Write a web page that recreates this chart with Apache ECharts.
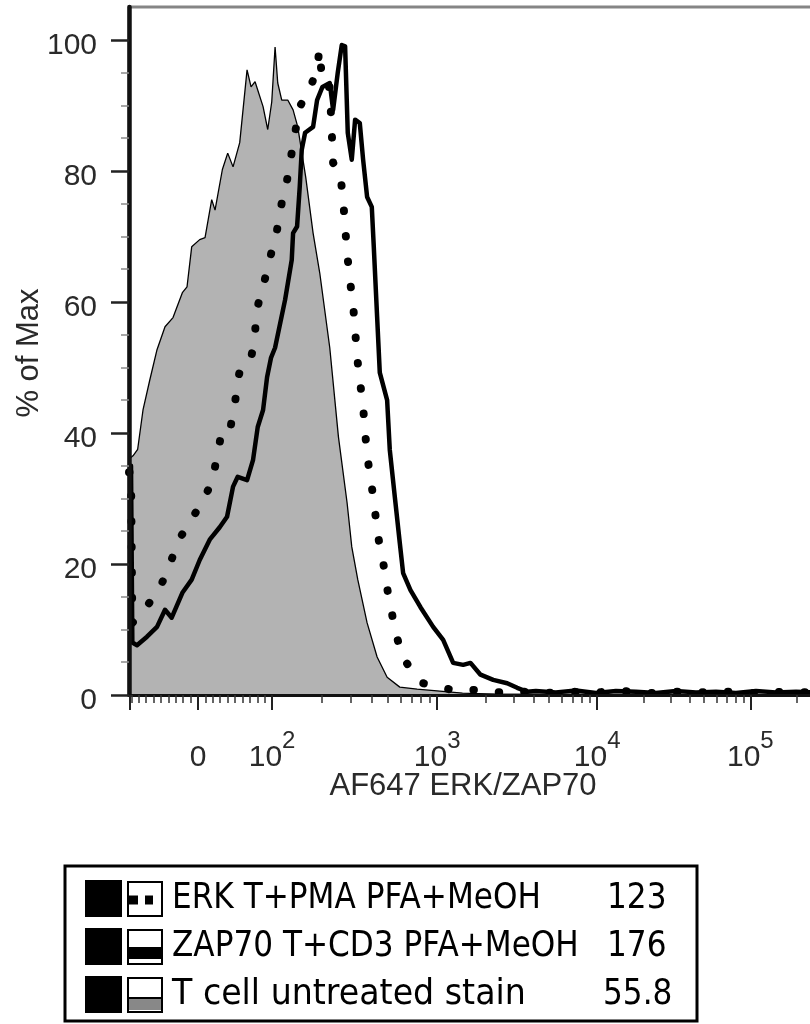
<!DOCTYPE html>
<html>
<head>
<meta charset="utf-8">
<script src="https://cdn.jsdelivr.net/npm/echarts@6.0.0/dist/echarts.min.js"></script>
<style>
html,body{margin:0;padding:0;background:#ffffff;}
#chart{width:810px;height:1024px;}
</style>
</head>
<body>
<div id="chart"></div>
<script>
// x values: display channel (0-1024) of the biexponential AF647 axis; y values: % of max
const erkCh = [0,3,5,28,46,61,73,91,109,124,132,139,151,159,163,170,184,189,190,201,212,222,229,237,249,256,271,283,285,291,301,306,316,321,324,327,331,336,339,342,346,351,354,358,364,369,373,381,387,394,402,411,432,441,467,492,520,550,580,620,660,700,740,780,820,860,900,940,980,1024];
const erkPct = [34,34,11,13.7,16.3,19.8,23.4,26.4,29.3,32.4,36.3,40.2,40.2,44.6,48.1,51,52,54.2,58.3,62.3,66.9,71,75.1,78.6,85.8,89.8,92.4,95.9,98.5,92.8,92.8,81.2,80.2,75.6,71.5,67.5,63.5,59.5,55.7,51.6,48.1,44,40,35.9,31.8,27.9,24.4,20.3,16.3,12.5,8.7,5.6,2.7,1.8,1.2,0.6,0.8,0.4,0.6,0.3,0.5,0.4,0.6,0.3,0.5,0.4,0.5,0.3,0.5,0.4];

const zapCh = [0,3,5,12,27,42,54,64,80,94,106,121,136,147,156,163,177,186,193,201,207,213,219,234,244,246,252,256,259,264,276,282,290,301,306,313,319,324,328,334,339,346,351,357,364,367,372,376,387,391,399,406,411,422,437,456,471,486,501,512,527,546,567,582,597,610,640,670,700,730,760,790,820,850,880,910,940,970,1000,1024];
const zapPct = [35,35,8,7.6,8.9,10.4,13,11.8,15.6,17.6,20.6,23.7,25.6,27.2,31.8,33.3,32.8,35.9,40.9,43.5,48.5,51.5,53,60.3,66.4,70.5,71.5,77.6,83.2,85.8,86.7,90.8,92.8,93.4,89.3,95,99.2,99,85.8,81.7,87.8,87.3,81.7,76,74.5,68.4,57.7,49.2,45,37.4,29.8,23.2,18.6,16,13.4,10.4,8.4,4.9,4.6,4.9,3.1,2.3,1.8,1.1,0.5,0.6,0.4,0.7,0.3,0.6,0.5,0.3,0.6,0.4,0.5,0.3,0.6,0.4,0.5,0.4];

const unstCh = [0,6,13,21,31,42,54,66,80,87,94,106,114,124,129,140,148,156,166,177,183,189,201,208,214,219,223,229,238,246,253,265,276,286,301,314,327,334,343,357,372,387,406,432,466,500,560,640,760,900,1024];
const unstPct = [36,36.5,37.5,43.5,48,52.7,56.2,57.6,61.4,62.3,68.4,69.5,69.8,75.6,74,80.2,82.7,80.6,84.3,95.4,92.8,93.6,89.8,86.3,90.5,98.9,93.4,90.8,90.8,89.3,86.7,79,70.5,64.4,53,39.4,29.3,22.6,17.6,11,5.8,2.7,1.2,0.9,0.6,0.3,0.1,0.1,0,0,0];

const xTickCh = [103.5, 214.5, 462, 702, 931.5];
const xTickBase = ['0','10','10','10','10'];
const xTickExp = ['','2','3','4','5'];
const yTicks = [0,20,40,60,80,100];

const legendNames = ['ERK T+PMA PFA+MeOH','ZAP70 T+CD3 PFA+MeOH','T cell untreated stain'];
const legendValues = ['123','176','55.8'];

// ---- minor ticks of the biexponential axis ----
const minorX = [];
const zeroCh = xTickCh[0];
const dec = xTickCh.slice(1);
const linStep = (dec[0] - zeroCh) / 10;
for (let i = 1; i <= 9; i++) {
  minorX.push(zeroCh + i * linStep);
  const neg = zeroCh - i * linStep;
  if (neg > 0) minorX.push(neg);
}
for (let k = 0; k < dec.length; k++) {
  const span = k < dec.length - 1 ? dec[k + 1] - dec[k] : dec[k] - dec[k - 1];
  for (let m = 2; m <= 9; m++) {
    const v = dec[k] + Math.log10(m) * span;
    if (v < 1024) minorX.push(v);
  }
}
const yMinor = [];
for (let v = 5; v < 105; v += 5) if (v % 20 !== 0) yMinor.push(v);

function fmtX(val) {
  for (let i = 0; i < xTickCh.length; i++) {
    if (Math.abs(val - xTickCh[i]) < 0.01) {
      return xTickExp[i] ? '{b|' + xTickBase[i] + '}{s|' + xTickExp[i] + '}' : '{b|' + xTickBase[i] + '}';
    }
  }
  return '';
}

const FONT = 'Liberation Sans, Arial, Helvetica, sans-serif';
const TXT = '#2a2a2a';

// ---- legend box (graphic) ----
const g = [];
g.push({type:'rect', shape:{x:65, y:866, width:632, height:155}, style:{fill:'#fff', stroke:'#000', lineWidth:3}, z:10});
legendNames.forEach((name, i) => {
  const cy = 898.5 + i * 48;
  g.push({type:'rect', shape:{x:85, y:cy - 18.5, width:37, height:37}, style:{fill:'#000'}, z:11});
  g.push({type:'rect', shape:{x:128, y:cy - 16.5, width:34, height:34}, style:{fill:'#fff', stroke:'#000', lineWidth:2}, z:11});
  if (i === 0) {
    g.push({type:'rect', shape:{x:129, y:cy - 3, width:9, height:9}, style:{fill:'#000'}, z:12});
    g.push({type:'rect', shape:{x:145, y:cy - 3, width:8, height:9}, style:{fill:'#000'}, z:12});
  } else if (i === 1) {
    g.push({type:'rect', shape:{x:128, y:cy + 0.5, width:34, height:12}, style:{fill:'#000'}, z:12});
  } else {
    g.push({type:'rect', shape:{x:129, y:cy + 3.5, width:32, height:12}, style:{fill:'#888'}, z:12});
    g.push({type:'line', shape:{x1:128, y1:cy + 3.5, x2:162, y2:cy + 3.5}, style:{stroke:'#000', lineWidth:2}, z:13});
  }
  g.push({type:'text', x:172, y:cy, scaleX: i === 2 ? 0.95 : 0.89, z:12,
    style:{text:name, x:0, y:0, fontFamily:'DejaVu Sans, sans-serif', fontSize:35, fill:'#000', align:'left', verticalAlign:'middle'}});
  g.push({type:'text', x: i === 2 ? 603 : 607, y:cy, scaleX:0.89, z:12,
    style:{text:legendValues[i], x:0, y:0, fontFamily:'DejaVu Sans, sans-serif', fontSize:35, fill:'#000', align:'left', verticalAlign:'middle'}});
});
// axis titles
g.push({type:'text', x:463, y:786, z:12, style:{text:'AF647 ERK/ZAP70', fontFamily:FONT, fontSize:31, fill:TXT, align:'center', verticalAlign:'middle'}});
g.push({type:'text', x:29, y:353, rotation:Math.PI/2, z:12, style:{text:'% of Max', fontFamily:FONT, fontSize:31, fill:TXT, align:'center', verticalAlign:'middle'}});

const option = {
  animation: false,
  backgroundColor: '#ffffff',
  grid: {left:129, right:-2, top:7, bottom:329, show:true, borderColor:'#858585', borderWidth:3, backgroundColor:'transparent', containLabel:false, outerBoundsMode:'none'},
  xAxis: [
    {type:'value', min:0, max:1024, position:'bottom', z:10,
     axisLine:{show:true, onZero:false, lineStyle:{color:'#111', width:3}},
     axisTick:{show:true, customValues:[1.5].concat(xTickCh), length:15, lineStyle:{color:'#222', width:2}},
     axisLabel:{show:true, customValues:xTickCh, margin:34, formatter:fmtX,
       rich:{
         b:{fontSize:30, fontFamily:FONT, color:TXT, lineHeight:44, verticalAlign:'bottom'},
         s:{fontSize:24, fontFamily:FONT, color:TXT, lineHeight:25, verticalAlign:'top'}
       }},
     splitLine:{show:false}},
    {type:'value', min:0, max:1024, position:'bottom', z:10,
     axisLine:{show:false},
     axisTick:{show:true, customValues:minorX, length:8, lineStyle:{color:'#333', width:1.5}},
     axisLabel:{show:false}, splitLine:{show:false}}
  ],
  yAxis: [
    {type:'value', min:0, max:105, position:'left', z:10,
     axisLine:{show:true, onZero:false, lineStyle:{color:'#111', width:4.5}},
     axisTick:{show:true, customValues:yTicks, length:18, lineStyle:{color:'#222', width:2.5}},
     axisLabel:{show:true, customValues:yTicks, margin:32, fontSize:30, fontFamily:FONT, color:TXT, verticalAlign:'top', lineHeight:12},
     splitLine:{show:false}},
    {type:'value', min:0, max:105, position:'left', z:10,
     axisLine:{show:false},
     axisTick:{show:true, customValues:yMinor, length:8, lineStyle:{color:'#8a8a8a', width:1.5}},
     axisLabel:{show:false}, splitLine:{show:false}}
  ],
  series: [
    {type:'line', name:'T cell untreated stain', xAxisIndex:0, yAxisIndex:0, z:2,
     data: unstCh.map((c, i) => [c, unstPct[i]]), symbol:'none',
     lineStyle:{color:'#000', width:1.3}, areaStyle:{color:'#b3b3b3', opacity:1}},
    {type:'line', name:'ERK T+PMA PFA+MeOH', xAxisIndex:0, yAxisIndex:0, z:3,
     data: erkCh.map((c, i) => [c, erkPct[i]]), symbol:'none',
     lineStyle:{color:'#000', width:8, type:[0.5, 25], cap:'round', join:'round'}},
    {type:'line', name:'ZAP70 T+CD3 PFA+MeOH', xAxisIndex:0, yAxisIndex:0, z:4,
     data: zapCh.map((c, i) => [c, zapPct[i]]), symbol:'none',
     lineStyle:{color:'#000', width:4.5, join:'round'}}
  ],
  graphic: g
};

const chart = echarts.init(document.getElementById('chart'), null, {renderer:'canvas', width:810, height:1024});
chart.setOption(option);
</script>
</body>
</html>
